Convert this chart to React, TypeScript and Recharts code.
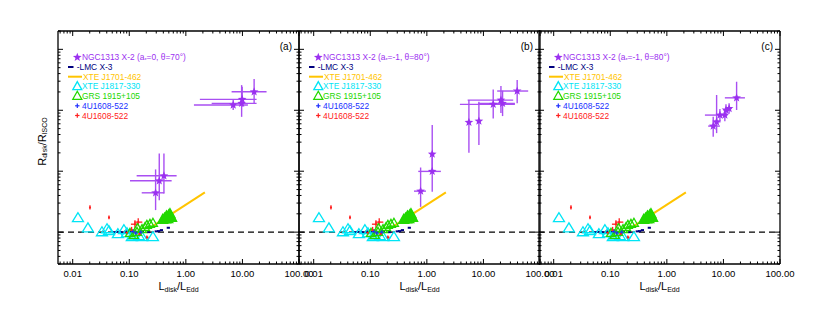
import React from 'react';
import { ComposedChart, Scatter, XAxis, YAxis, ErrorBar, ReferenceLine } from 'recharts';

// ---- values ----
const X_DOMAIN = [0.0055, 100];
const Y_DOMAIN = [0.3, 2000];

const xTicks = [
  0.006, 0.007, 0.008, 0.009,
  0.01, 0.02, 0.03, 0.04, 0.05, 0.06, 0.07, 0.08, 0.09,
  0.1, 0.2, 0.3, 0.4, 0.5, 0.6, 0.7, 0.8, 0.9,
  1, 2, 3, 4, 5, 6, 7, 8, 9,
  10, 20, 30, 40, 50, 60, 70, 80, 90,
  100,
];
const yTicks = [
  0.3, 0.4, 0.5, 0.6, 0.7, 0.8, 0.9,
  1, 2, 3, 4, 5, 6, 7, 8, 9,
  10, 20, 30, 40, 50, 60, 70, 80, 90,
  100, 200, 300, 400, 500, 600, 700, 800, 900,
  1000, 2000,
];

// NGC1313 X-2, one list per panel
const starsA = [
  { x: 6.87, y: 122, xlo: 1.39, xhi: 12.5, ylo: 101, yhi: 147 },
  { x: 9.68, y: 130, xlo: 2.86, xhi: 17.8, ylo: 78, yhi: 259 },
  { x: 9.9, y: 151, xlo: 1.77, xhi: 17.8, ylo: 114, yhi: 243 },
  { x: 16.1, y: 201, xlo: 6.44, xhi: 26.7, ylo: 131, yhi: 325 },
  { x: 0.292, y: 4.42, xlo: 0.166, xhi: 0.415, ylo: 2.3, yhi: 10.7 },
  { x: 0.339, y: 6.96, xlo: 0.103, xhi: 0.561, ylo: 3.35, yhi: 19.6 },
  { x: 0.41, y: 8.4, xlo: 0.135, xhi: 0.687, ylo: 4.32, yhi: 19.6 },
];
const starsB = [
  { x: 0.776, y: 4.71, xlo: 0.592, xhi: 0.964, ylo: 2.6, yhi: 11.5 },
  { x: 1.245, y: 9.93, xlo: 0.705, xhi: 1.77, ylo: 4.59, yhi: 19.8 },
  { x: 1.245, y: 19.1, xlo: 1.15, xhi: 1.35, ylo: 10.4, yhi: 57.2 },
  { x: 5.54, y: 63.3, xlo: 5.1, xhi: 6.0, ylo: 20.0, yhi: 147 },
  { x: 8.32, y: 66.5, xlo: 7.7, xhi: 9.0, ylo: 26.8, yhi: 138 },
  { x: 14.9, y: 125, xlo: 3.84, xhi: 36.0, ylo: 73.6, yhi: 220 },
  { x: 20.4, y: 147, xlo: 5.26, xhi: 33.6, ylo: 90, yhi: 250 },
  { x: 21.8, y: 130, xlo: 8.09, xhi: 36.0, ylo: 80.3, yhi: 209 },
  { x: 39.5, y: 207, xlo: 17.5, xhi: 61.8, ylo: 130, yhi: 313 },
];
const starsC = [
  { x: 6.6, y: 55, xlo: 5.38, xhi: 8.67, ylo: 36.7, yhi: 78.2 },
  { x: 7.58, y: 64.7, xlo: 6.45, xhi: 8.9, ylo: 42.2, yhi: 178 },
  { x: 8.67, y: 83.4, xlo: 4.71, xhi: 11.4, ylo: 66, yhi: 105 },
  { x: 10.6, y: 83.4, xlo: 9.5, xhi: 11.8, ylo: 66, yhi: 105 },
  { x: 11.1, y: 101, xlo: 9.9, xhi: 12.4, ylo: 82, yhi: 125 },
  { x: 12.6, y: 107, xlo: 11.2, xhi: 14.1, ylo: 88, yhi: 130 },
  { x: 17.1, y: 160, xlo: 10.6, xhi: 24, ylo: 101, yhi: 294 },
];

const lmcX3 = [
  { x: 0.054, y: 1.0 }, { x: 0.06, y: 1.01 }, { x: 0.072, y: 1.0 }, { x: 0.086, y: 1.02 },
  { x: 0.105, y: 1.0 }, { x: 0.13, y: 1.01 }, { x: 0.17, y: 1.0 }, { x: 0.22, y: 1.0 },
  { x: 0.3, y: 1.03 }, { x: 0.33, y: 1.04 }, { x: 0.37, y: 1.08 }, { x: 0.49, y: 1.18 },
];
const j1701 = [
  { x: 0.248, y: 1.22 },
  { x: 2.17, y: 4.49 },
];
const j1817 = [
  { x: 0.0124, y: 1.7 }, { x: 0.0186, y: 1.16 }, { x: 0.0329, y: 1.0 }, { x: 0.0404, y: 1.12 },
  { x: 0.0438, y: 1.04 }, { x: 0.063, y: 0.93 }, { x: 0.0805, y: 1.08 }, { x: 0.091, y: 0.96 },
  { x: 0.111, y: 0.83 }, { x: 0.12, y: 0.88 }, { x: 0.148, y: 0.86 }, { x: 0.168, y: 0.83 },
  { x: 0.262, y: 0.83 },
];
const grs1915 = [
  { x: 0.103, y: 0.96 }, { x: 0.12, y: 0.89 }, { x: 0.137, y: 1.0 }, { x: 0.14, y: 1.16 },
  { x: 0.168, y: 1.11 }, { x: 0.19, y: 1.2 }, { x: 0.205, y: 1.3 }, { x: 0.232, y: 1.35 },
  { x: 0.262, y: 1.41 },
];
const grs1915Bright = [
  { x: 0.39, y: 1.6 }, { x: 0.42, y: 1.68 }, { x: 0.44, y: 1.62 }, { x: 0.455, y: 1.83 },
  { x: 0.47, y: 1.75 }, { x: 0.48, y: 1.65 }, { x: 0.5, y: 1.9 }, { x: 0.524, y: 1.98 },
  { x: 0.54, y: 1.8 }, { x: 0.56, y: 1.72 },
];
const u1608Blue = [
  { x: 0.115, y: 1.03 }, { x: 0.13, y: 0.97 }, { x: 0.16, y: 1.0 },
];
const u1608Red = [
  { x: 0.0202, y: 2.54, xlo: 0.0202, xhi: 0.0202, ylo: 2.35, yhi: 2.75 },
  { x: 0.0438, y: 1.74, xlo: 0.0438, xhi: 0.0438, ylo: 1.62, yhi: 1.87 },
  { x: 0.09, y: 0.98, xlo: 0.08, xhi: 0.1, ylo: 0.9, yhi: 1.07 },
  { x: 0.11, y: 1.08, xlo: 0.095, xhi: 0.127, ylo: 0.95, yhi: 1.22 },
  { x: 0.126, y: 1.35, xlo: 0.107, xhi: 0.148, ylo: 1.16, yhi: 1.57 },
  { x: 0.144, y: 1.46, xlo: 0.122, xhi: 0.17, ylo: 1.26, yhi: 1.69 },
  { x: 0.153, y: 0.93, xlo: 0.14, xhi: 0.167, ylo: 0.86, yhi: 1.0 },
  { x: 0.205, y: 0.82, xlo: 0.19, xhi: 0.22, ylo: 0.76, yhi: 0.88 },
];

// ---- look ----
const PURPLE = '#9b30f0';
const PURPLE_ERR = '#a94ff2';
const NAVY = '#000080';
const GOLD = '#ffc400';
const CYAN = '#00e5f5';
const GREEN = '#22d800';
const BLUE = '#2030ff';
const RED = '#ff2020';
const FONT = '"Liberation Sans", Arial, sans-serif';

const TOP = 31;
const W = 241;
const H = 233;
const ML = 30;
const MR = 25;
const MT = 10;
const XH = 40;
const AX = 1; // thickness reserved by the top/left/right axes

const isMajor = (v: number) => Math.abs(Math.log10(v) - Math.round(Math.log10(v))) < 1e-6;

function AxisTick({ x, y, payload, side, labels }: any) {
  const v = payload.value;
  const len = isMajor(v) ? 5 : 2.5;
  let x2 = x, y2 = y;
  if (side === 'bottom') y2 = y - len;
  if (side === 'top') y2 = y + len;
  if (side === 'left') x2 = x + len;
  if (side === 'right') x2 = x - len;
  return (
    <g>
      <line x1={x} y1={y} x2={x2} y2={y2} stroke="#000" strokeWidth={1} />
      {labels && isMajor(v) && (
        <text x={x} y={y + 12.7} textAnchor="middle" fontSize={9.5} fontFamily={FONT} fill="#000">
          {v.toFixed(2)}
        </text>
      )}
    </g>
  );
}

function starPoints(cx: number, cy: number, R: number, r: number) {
  const pts: string[] = [];
  for (let i = 0; i < 10; i++) {
    const a = -Math.PI / 2 + (i * Math.PI) / 5;
    const rr = i % 2 === 0 ? R : r;
    pts.push(`${cx + rr * Math.cos(a)},${cy + rr * Math.sin(a)}`);
  }
  return pts.join(' ');
}

const Star = ({ cx, cy }: any) => <polygon points={starPoints(cx, cy, 4.6, 1.9)} fill={PURPLE} />;

const Tri = ({ cx, cy, w, h, color, filled }: any) => (
  <polygon
    points={`${cx},${cy - h * 0.6} ${cx - w / 2},${cy + h * 0.4} ${cx + w / 2},${cy + h * 0.4}`}
    fill={filled ? color : 'none'}
    stroke={color}
    strokeWidth={1.3}
  />
);

const Plus = ({ cx, cy, r, color }: any) => (
  <g stroke={color} strokeWidth={1.2}>
    <line x1={cx - r} y1={cy} x2={cx + r} y2={cy} />
    <line x1={cx} y1={cy - r} x2={cx} y2={cy + r} />
  </g>
);

const Dash = ({ cx, cy }: any) => <rect x={cx - 1.6} y={cy - 1} width={3.2} height={2} fill={NAVY} />;

const withErrors = (rows: any[]) =>
  rows.map((s) => ({ x: s.x, y: s.y, ex: [s.x - s.xlo, s.xhi - s.x], ey: [s.y - s.ylo, s.yhi - s.y] }));

function Legend({ spin, incl }: { spin: string; incl: string }) {
  const rows = [26.3, 36, 45.7, 55.4, 65.1, 74.8, 84.5];
  const sx = 19.3;
  const tx = 24;
  const fs = 8.4;
  return (
    <g fontFamily={FONT} fontSize={fs}>
      <polygon points={starPoints(sx, rows[0], 4.6, 1.9)} fill={PURPLE} />
      <text x={tx} y={rows[0] + 3} fill={PURPLE}>
        NGC1313 X-2 (a<tspan fontSize={5.5} dy={1.5}>*</tspan>
        <tspan dy={-1.5}>={spin}, θ={incl}°)</tspan>
      </text>

      <rect x={10} y={rows[1] - 1} width={5.5} height={2} fill={NAVY} />
      <text x={18.7} y={rows[1] + 3} fill={NAVY}>-LMC X-3</text>

      <line x1={10} y1={rows[2]} x2={24} y2={rows[2]} stroke={GOLD} strokeWidth={2} />
      <text x={25} y={rows[2] + 3} fill={GOLD}>XTE J1701-462</text>

      <Tri cx={sx} cy={rows[3]} w={9} h={8} color={CYAN} />
      <text x={tx} y={rows[3] + 3} fill={CYAN}>XTE J1817-330</text>

      <Tri cx={sx} cy={rows[4]} w={9} h={8} color={GREEN} />
      <text x={tx} y={rows[4] + 3} fill={GREEN}>GRS 1915+105</text>

      <Plus cx={sx} cy={rows[5]} r={2.2} color={BLUE} />
      <text x={tx} y={rows[5] + 3} fill={BLUE}>4U1608-522</text>

      <Plus cx={sx} cy={rows[6]} r={2.2} color={RED} />
      <text x={tx} y={rows[6] + 3} fill={RED}>4U1608-522</text>
    </g>
  );
}

function XTitle({ viewBox }: any) {
  const cx = viewBox.x + viewBox.width / 2;
  return (
    <text x={cx} y={viewBox.y + 26} textAnchor="middle" fontFamily={FONT} fontSize={11} fill="#000">
      L<tspan fontSize={7} dy={2}>disk</tspan>
      <tspan dy={-2}>/L</tspan>
      <tspan fontSize={7} dy={2}>Edd</tspan>
    </text>
  );
}

function YTitle({ viewBox }: any) {
  const x = viewBox.x + viewBox.width - 15;
  const y = viewBox.y + viewBox.height / 2 - 6;
  return (
    <text
      x={x}
      y={y}
      transform={`rotate(-90 ${x} ${y})`}
      textAnchor="middle"
      dominantBaseline="middle"
      fontFamily={FONT}
      fontSize={11}
      fill="#000"
    >
      R<tspan fontSize={7} dy={2}>disk</tspan>
      <tspan dy={-2}>/R</tspan>
      <tspan fontSize={7} dy={2}>ISCO</tspan>
    </text>
  );
}

interface PanelProps {
  left: number;
  stars: any[];
  tag: string;
  spin: string;
  incl: string;
  yTitle?: boolean;
}

function Panel({ left, stars, tag, spin, incl, yTitle }: PanelProps) {
  const starData = withErrors(stars);
  const redData = withErrors(u1608Red);
  const axisLine = { stroke: '#000', strokeWidth: 1.3 };
  const common = { type: 'number' as const, scale: 'log' as const, allowDataOverflow: true, interval: 0 as const, tickLine: false, tickSize: 0, tickMargin: 0, axisLine };

  return (
    <>
      <div style={{ position: 'absolute', left: left - ML - AX, top: TOP - MT - AX }}>
        <ComposedChart
          width={W + ML + MR + 2 * AX}
          height={MT + AX + H + XH}
          margin={{ top: MT, right: MR, bottom: 0, left: ML }}
        >
          <XAxis {...common} xAxisId="b" dataKey="x" domain={X_DOMAIN} ticks={xTicks} height={XH}
            tick={(p: any) => <AxisTick {...p} side="bottom" labels />}
            label={{ content: (p: any) => <XTitle {...p} /> }} />
          <XAxis {...common} xAxisId="t" orientation="top" dataKey="x" domain={X_DOMAIN} ticks={xTicks} height={AX}
            tick={(p: any) => <AxisTick {...p} side="top" />} />
          <YAxis {...common} yAxisId="l" dataKey="y" domain={Y_DOMAIN} ticks={yTicks} width={AX}
            tick={(p: any) => <AxisTick {...p} side="left" />}
            label={yTitle ? { content: (p: any) => <YTitle {...p} /> } : undefined} />
          <YAxis {...common} yAxisId="r" orientation="right" dataKey="y" domain={Y_DOMAIN} ticks={yTicks} width={AX}
            tick={(p: any) => <AxisTick {...p} side="right" />} />

          <ReferenceLine xAxisId="b" yAxisId="l" y={1} stroke="#000" strokeWidth={1.1} strokeDasharray="6 4" />

          <Scatter xAxisId="b" yAxisId="l" data={j1701} line={{ stroke: GOLD, strokeWidth: 2 }} lineType="joint"
            shape={() => <g />} isAnimationActive={false} />
          <Scatter xAxisId="b" yAxisId="l" data={lmcX3} shape={(p: any) => <Dash {...p} />} isAnimationActive={false} />
          <Scatter xAxisId="b" yAxisId="l" data={j1817}
            shape={(p: any) => <Tri cx={p.cx} cy={p.cy} w={11} h={9} color={CYAN} />} isAnimationActive={false} />
          <Scatter xAxisId="b" yAxisId="l" data={grs1915}
            shape={(p: any) => <Tri cx={p.cx} cy={p.cy} w={9} h={8} color={GREEN} />} isAnimationActive={false} />
          <Scatter xAxisId="b" yAxisId="l" data={grs1915Bright}
            shape={(p: any) => <Tri cx={p.cx} cy={p.cy} w={10} h={9} color={GREEN} filled />} isAnimationActive={false} />
          <Scatter xAxisId="b" yAxisId="l" data={u1608Blue}
            shape={(p: any) => <Plus cx={p.cx} cy={p.cy} r={1.8} color={BLUE} />} isAnimationActive={false} />
          <Scatter xAxisId="b" yAxisId="l" data={redData}
            shape={(p: any) => <Plus cx={p.cx} cy={p.cy} r={1} color={RED} />} isAnimationActive={false}>
            <ErrorBar dataKey="ex" direction="x" width={0} stroke={RED} strokeWidth={1.3} isAnimationActive={false} />
            <ErrorBar dataKey="ey" direction="y" width={0} stroke={RED} strokeWidth={1.3} isAnimationActive={false} />
          </Scatter>
          <Scatter xAxisId="b" yAxisId="l" data={starData} shape={(p: any) => <Star {...p} />} isAnimationActive={false}>
            <ErrorBar dataKey="ex" direction="x" width={0} stroke={PURPLE_ERR} strokeWidth={1.4} isAnimationActive={false} />
            <ErrorBar dataKey="ey" direction="y" width={0} stroke={PURPLE_ERR} strokeWidth={1.4} isAnimationActive={false} />
          </Scatter>
        </ComposedChart>
      </div>
      <svg
        width={W}
        height={100}
        style={{ position: 'absolute', left, top: TOP, overflow: 'visible', pointerEvents: 'none' }}
      >
        <Legend spin={spin} incl={incl} />
        <text x={W - 7} y={19} textAnchor="end" fontFamily={FONT} fontSize={10} fill="#000">{tag}</text>
      </svg>
    </>
  );
}

export default function App() {
  return (
    <div style={{ position: 'absolute', left: 0, top: 0, width: 830, height: 311, background: '#fff', overflow: 'hidden' }}>
      <Panel left={58} stars={starsA} tag="(a)" spin="0" incl="70" yTitle />
      <Panel left={299} stars={starsB} tag="(b)" spin="-1" incl="80" />
      <Panel left={539} stars={starsC} tag="(c)" spin="-1" incl="80" />
    </div>
  );
}
